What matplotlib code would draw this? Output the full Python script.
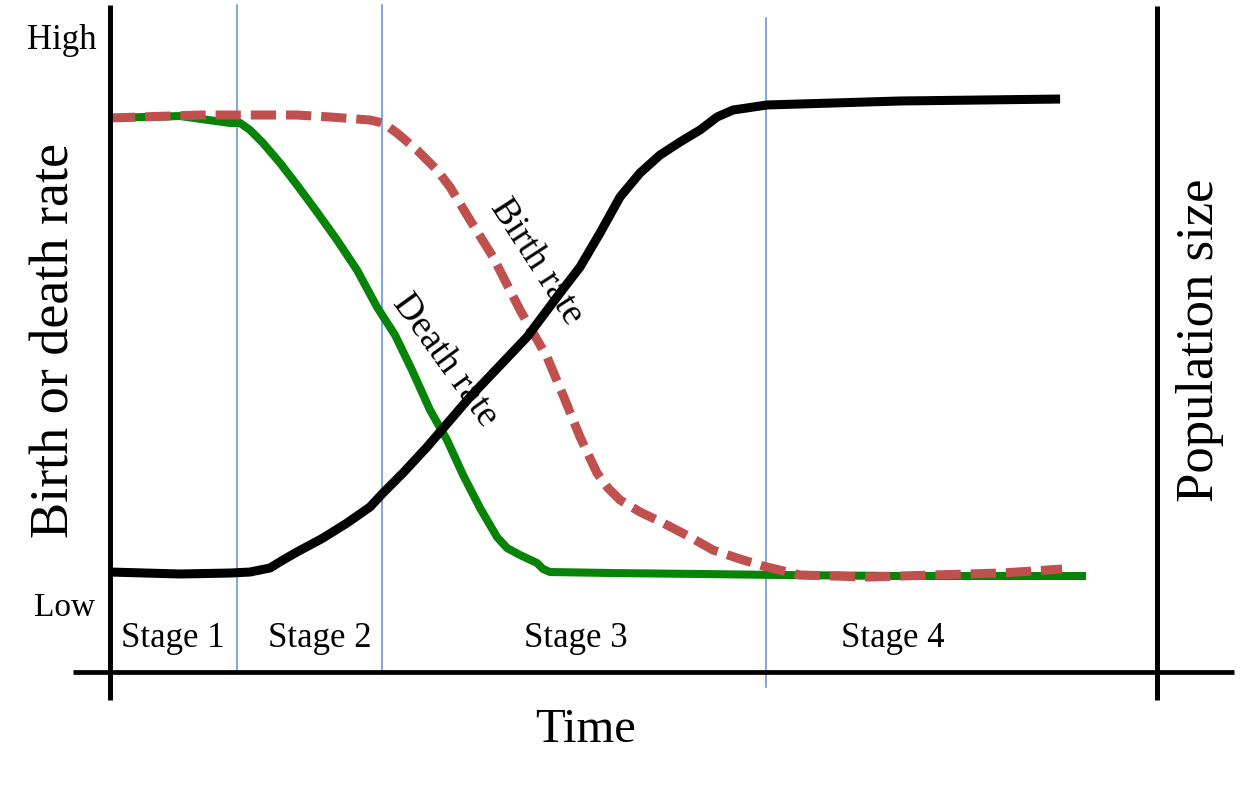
import matplotlib
matplotlib.use("Agg")
import matplotlib.pyplot as plt

# ---- data (time on 0..100 scale, rates / population on 0..100 scale) ----
death_t = [0, 6.69, 11.46, 12.42, 13.37, 14.61, 16.24, 17.86, 19.77, 21.68, 23.59, 25.50,
           27.22, 28.84, 30.56, 32.19, 33.72, 35.34, 36.96, 37.92, 39.16, 40.78, 41.36,
           42.02, 48.04, 56.35, 63.99, 75.45, 93.22]
death_r = [87.66, 87.97, 86.87, 86.87, 85.76, 83.70, 80.54, 77.06, 72.78, 68.35, 63.61, 57.75,
           53.32, 47.78, 41.46, 36.71, 31.17, 25.95, 21.36, 19.62, 18.51, 17.25, 16.30,
           15.82, 15.66, 15.51, 15.35, 15.19, 15.19]

birth_t = [0, 8.60, 17.86, 21.01, 24.83, 26.07, 27.41, 29.32, 31.23, 32.47, 34.38, 36.58,
           39.16, 41.74, 43.46, 44.89, 46.51, 47.56, 48.71, 50.62, 52.82, 55.40, 57.59,
           60.17, 62.37, 65.90, 72.30, 78.61, 85.00, 88.16, 90.93]
birth_r = [87.66, 88.13, 88.13, 87.82, 87.34, 86.87, 85.28, 82.59, 79.43, 76.74, 71.52, 65.66,
           57.28, 49.84, 43.04, 37.18, 31.49, 29.11, 27.22, 25.32, 23.58, 21.36, 19.30,
           17.88, 16.77, 15.35, 15.03, 15.35, 15.66, 15.98, 16.30]

pop_t = [0, 6.69, 11.46, 13.37, 15.28, 16.52, 17.86, 20.34, 22.64, 24.83, 26.07, 27.98,
         30.28, 34.38, 39.83, 42.98, 44.89, 46.80, 48.71, 50.62, 52.53, 54.44, 56.35,
         57.98, 59.50, 62.75, 75.45, 90.74]
pop_v = [15.82, 15.51, 15.66, 15.82, 16.46, 17.72, 18.99, 21.20, 23.58, 26.11, 28.32, 31.49,
         35.60, 43.51, 53.01, 59.97, 64.08, 69.46, 75.16, 78.96, 81.80, 83.86, 85.76,
         87.82, 88.92, 89.72, 90.35, 90.66]

stage_bounds = [12.13, 25.98, 62.65]
stage_labels = ["Stage 1", "Stage 2", "Stage 3", "Stage 4"]
stage_label_t = [6.02, 20.06, 44.51, 74.79]

# ---- figure ----
plt.rcParams['font.family'] = ['Liberation Serif', 'DejaVu Serif']
fig = plt.figure(figsize=(12.56, 7.95), dpi=100)
ax = fig.add_axes([0, 0, 1, 1])
ax.set_xlim(-10.506, 109.45)
ax.set_ylim(-19.46, 106.33)
ax.axis('off')

# axes frame lines
ax.plot([0, 0], [105.5, -4.43], color='black', lw=3.6, solid_capstyle='butt', zorder=4)
ax.plot([-3.53, 107.35], [0, 0], color='black', lw=3.4, solid_capstyle='butt', zorder=4)
ax.plot([100, 100], [105.4, -4.43], color='black', lw=3.6, solid_capstyle='butt', zorder=4)

# stage boundaries
blue = '#5b8fd9'
ax.plot([stage_bounds[0]] * 2, [105.5, 0], color=blue, lw=1.1, zorder=1)
ax.plot([stage_bounds[1]] * 2, [105.5, 0], color=blue, lw=1.1, zorder=1)
ax.plot([stage_bounds[2]] * 2, [103.5, -2.37], color=blue, lw=1.1, zorder=1)

# curves
ax.plot(death_t, death_r, color='#078407', lw=5.8, solid_capstyle='butt',
        solid_joinstyle='round', zorder=2)
ax.plot(birth_t, birth_r, color='#c0504d', lw=6.5, dashes=(2.8, 1.1),
        dash_capstyle='butt', dash_joinstyle='round', zorder=2.5)
ax.plot(pop_t, pop_v, color='black', lw=6.5, solid_capstyle='butt',
        solid_joinstyle='round', zorder=3)

# texts
ax.text(-4.58, 100.0, "High", fontsize=25, ha='center', va='center')
ax.text(-4.30, 10.13, "Low", fontsize=24, ha='center', va='center')
for lab, t in zip(stage_labels, stage_label_t):
    ax.text(t, 5.38, lab, fontsize=25, ha='center', va='center')
ax.text(45.37, -9.18, "Time", fontsize=35, ha='center', va='center')
ax.text(-5.25, 52.53, "Birth or death rate", fontsize=39, rotation=90,
        ha='center', va='center')
ax.text(104.1, 52.53, "Population size", fontsize=38, rotation=90,
        ha='center', va='center')
ax.text(40.78, 64.87, "Birth rate", fontsize=27, rotation=-57,
        ha='center', va='center', rotation_mode='anchor', zorder=2.8)
ax.text(32.0, 49.37, "Death rate", fontsize=27, rotation=-54,
        ha='center', va='center', rotation_mode='anchor', zorder=2.8)

fig.savefig("out.png", dpi=100)
